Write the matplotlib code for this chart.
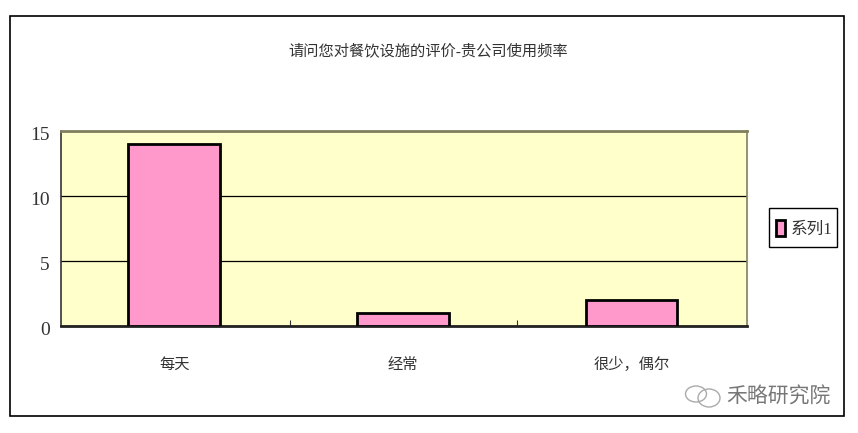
import matplotlib
matplotlib.use('Agg')
import matplotlib.pyplot as plt
from matplotlib.patches import Rectangle, Patch, Ellipse
from matplotlib.transforms import ScaledTranslation

plt.rcParams['font.family'] = ['Liberation Serif', 'Noto Sans CJK SC', 'DejaVu Sans']

categories = ['每天', '经常', '很少，偶尔']
values = [14, 1, 2]
y_ticks = [0, 5, 10, 15]
title = '请问您对餐饮设施的评价-贵公司使用频率'
series_name = '系列1'
watermark = '禾略研究院'

W, H = 858, 433
fig = plt.figure(figsize=(W / 100, H / 100), dpi=100, facecolor='white')

# outer chart frame
fig.add_artist(Rectangle((10 / W, 1 - 416 / H), 834 / W, 400 / H, transform=fig.transFigure,
                         fill=False, edgecolor='black', linewidth=1.2))

ax = fig.add_axes([61 / W, 1 - 325.5 / H, 686 / W, 194.5 / H])
ax.set_facecolor('#FFFFCC')

ax.bar(range(3), values, width=0.4, color='#FF99CC', edgecolor='black', linewidth=2, zorder=3)

ax.set_xlim(-0.495, 2.505)
ax.set_ylim(0, 15)
ax.set_yticks(y_ticks)
ax.set_xticks([0.505, 1.5])
ax.set_xticklabels([])
ax.tick_params(axis='x', direction='in', length=4, width=0.8, color='#333333')
ax.tick_params(axis='y', length=0, pad=8, labelsize=14, labelcolor='#333333')
ax.grid(axis='y', color='black', linewidth=0.9, zorder=1)
ax.set_axisbelow(True)

# y labels sit a little under their gridlines
nudge = ScaledTranslation(0, -2 / 72, fig.dpi_scale_trans)
for t in ax.get_yticklabels():
    t.set_transform(t.get_transform() + nudge)

ax.spines['top'].set_color('#80805F')
ax.spines['top'].set_linewidth(2)
ax.spines['right'].set_color('#80805F')
ax.spines['right'].set_linewidth(1.2)
ax.spines['left'].set_color('#333333')
ax.spines['left'].set_linewidth(1.2)
ax.spines['bottom'].set_color('#222222')
ax.spines['bottom'].set_linewidth(2)

# category labels sit well below the axis
for i, c in enumerate(categories):
    ax.annotate(c, xy=(i, 0), xycoords=('data', 'axes fraction'), xytext=(0, -39),
                textcoords='offset pixels', ha='center', va='center', fontsize=11, color='#333333')

fig.text(428 / W, 1 - 51 / H, title, ha='center', va='center', fontsize=11, color='#333333')

# legend box drawn separately so its size can be set exactly
fig.add_artist(Rectangle((769 / W, 1 - 247 / H), 68 / W, 39 / H, transform=fig.transFigure,
                         facecolor='white', edgecolor='black', linewidth=1))
leg = fig.legend(handles=[Patch(facecolor='#FF99CC', edgecolor='black', linewidth=2, label=series_name)],
                 loc='center', bbox_to_anchor=(804 / W, 1 - 229 / H), fontsize=12, frameon=False,
                 handlelength=0.55, handleheight=1.1, handletextpad=0.35, borderpad=0, borderaxespad=0)
for t in leg.get_texts():
    t.set_color('#333333')

# watermark bottom right, two chat bubbles plus the name
for (cx, cy, w, h) in [(696, 394, 21, 16), (709, 398, 22, 18)]:
    fig.add_artist(Ellipse((cx / W, 1 - cy / H), w / W, h / H, transform=fig.transFigure,
                           facecolor='none', edgecolor='#aaaaaa', linewidth=1))
fig.text(778 / W, 1 - 398 / H, watermark, ha='center', va='center', fontsize=15, color='#777777')

fig.savefig('out.png', dpi=100)
